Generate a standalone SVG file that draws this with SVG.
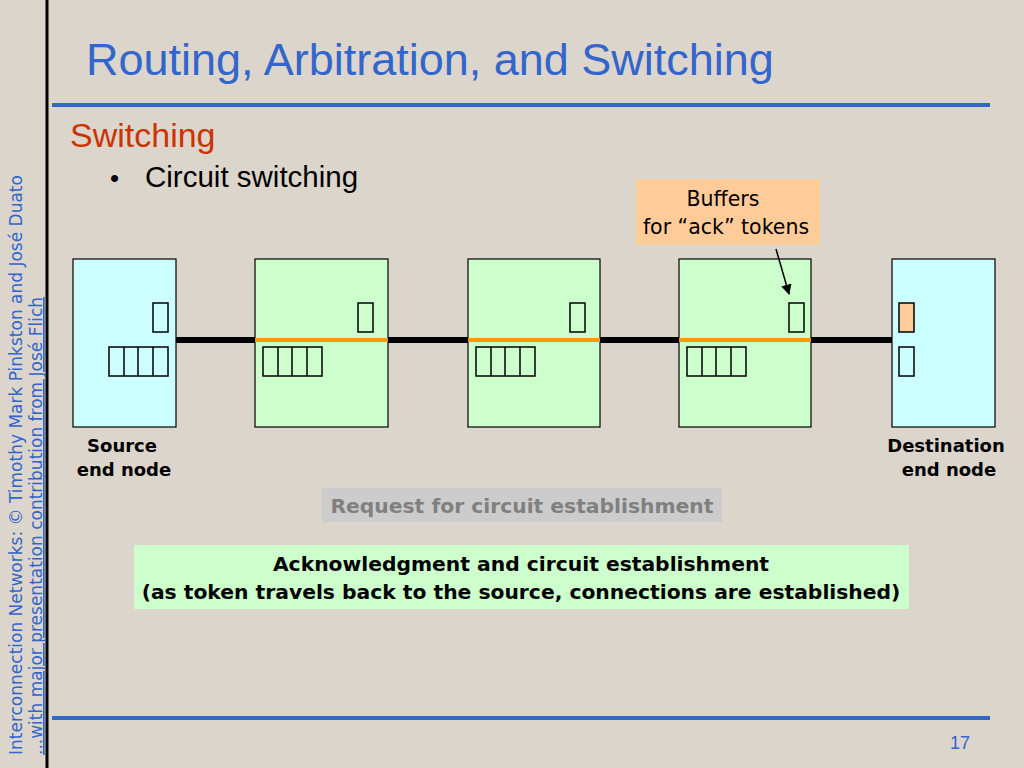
<svg xmlns="http://www.w3.org/2000/svg" width="1024" height="768" viewBox="0 0 1024 768">
<defs>
<style>
.box{stroke:#000;stroke-width:1.2}
.buf{fill:none;stroke:#000;stroke-width:1.5}
.dv{font-family:"DejaVu Sans",sans-serif}
.lb{font-family:"DejaVu Sans",sans-serif;font-weight:bold;font-size:18px;fill:#000;text-anchor:middle}
.big{font-size:20.3px}
</style>
<marker id="ah" viewBox="0 0 10 10" refX="9" refY="5" markerWidth="7" markerHeight="7" orient="auto"><path d="M0,0L10,5L0,10z" fill="#000"/></marker>
</defs>
<rect width="1024" height="768" fill="#dcd5cb"/>
<line x1="47" y1="0" x2="47" y2="768" stroke="#000" stroke-width="3"/>
<line x1="52" y1="105" x2="990" y2="105" stroke="#3366cc" stroke-width="4"/>
<line x1="52" y1="718" x2="990" y2="718" stroke="#3366cc" stroke-width="4"/>
<text x="86" y="75" font-family="Liberation Sans,sans-serif" font-size="45" fill="#3366cc">Routing, Arbitration, and Switching</text>
<text x="70" y="147" font-family="Liberation Sans,sans-serif" font-size="34" fill="#cc3300">Switching</text>
<text x="110" y="187" font-family="Liberation Sans,sans-serif" font-size="26" fill="#000">•</text>
<text x="145" y="187" font-family="Liberation Sans,sans-serif" font-size="29.5" fill="#000">Circuit switching</text>
<text transform="translate(22,755) rotate(-90)" class="dv" font-size="17" fill="#3366cc">Interconnection Networks: © Timothy Mark Pinkston and José Duato</text>
<text transform="translate(42,755) rotate(-90)" class="dv" font-size="17" fill="#3366cc" text-decoration="underline">...with major presentation contribution from José Flich</text>
<text x="960" y="749" font-family="Liberation Sans,sans-serif" font-size="18" fill="#3366cc" text-anchor="middle">17</text>
<g id="connectors">
<line x1="176" y1="340" x2="892" y2="340" stroke="#000" stroke-width="6"/>
</g>
<g id="source">
<rect class="box" x="73" y="259" width="103" height="168" fill="#ccffff"/>
<rect class="buf" x="153" y="303" width="15" height="29"/>
<rect class="buf" x="109" y="347" width="59" height="29"/>
<path class="buf" d="M124,347V376M138,347V376M153,347V376"/>
</g>
<g id="router1">
<rect class="box" x="255" y="259" width="133" height="168" fill="#ccffcc"/>
<line x1="255" y1="340" x2="388" y2="340" stroke="#ff9900" stroke-width="4"/>
<rect class="buf" x="358" y="303" width="15" height="29"/>
<rect class="buf" x="263" y="347" width="59" height="29"/>
<path class="buf" d="M278,347V376M292,347V376M307,347V376"/>
</g>
<g id="router2">
<rect class="box" x="468" y="259" width="132" height="168" fill="#ccffcc"/>
<line x1="468" y1="340" x2="600" y2="340" stroke="#ff9900" stroke-width="4"/>
<rect class="buf" x="570" y="303" width="15" height="29"/>
<rect class="buf" x="476" y="347" width="59" height="29"/>
<path class="buf" d="M491,347V376M505,347V376M520,347V376"/>
</g>
<g id="router3">
<rect class="box" x="679" y="259" width="132" height="168" fill="#ccffcc"/>
<line x1="679" y1="340" x2="811" y2="340" stroke="#ff9900" stroke-width="4"/>
<rect class="buf" x="789" y="303" width="15" height="29"/>
<rect class="buf" x="687" y="347" width="59" height="29"/>
<path class="buf" d="M702,347V376M716,347V376M731,347V376"/>
</g>
<g id="destination">
<rect class="box" x="892" y="259" width="103" height="168" fill="#ccffff"/>
<rect class="buf" x="899" y="303" width="15" height="29" style="fill:#ffcc99"/>
<rect class="buf" x="899" y="347" width="15" height="29"/>
</g>
<g id="buffers-note">
<rect x="636" y="179" width="184" height="66" fill="#ffcc99"/>
<text x="723" y="206" class="dv" font-size="20.5" text-anchor="middle">Buffers</text>
<text x="726" y="234" class="dv" font-size="20.5" text-anchor="middle">for “ack” tokens</text>
<line x1="776" y1="249" x2="789" y2="294" stroke="#000" stroke-width="1.5" marker-end="url(#ah)"/>
</g>
<text class="lb" x="122" y="452">Source</text>
<text class="lb" x="124" y="476">end node</text>
<text class="lb" x="946" y="452">Destination</text>
<text class="lb" x="949" y="476">end node</text>
<g id="request">
<rect x="322" y="488" width="400" height="34" fill="#cccccc"/>
<text class="lb big" x="522" y="513" style="fill:#808080">Request for circuit establishment</text>
</g>
<g id="ack">
<rect x="134" y="545" width="775" height="64" fill="#ccffcc"/>
<text class="lb big" x="521" y="571">Acknowledgment and circuit establishment</text>
<text class="lb big" x="521" y="599">(as token travels back to the source, connections are established)</text>
</g>
</svg>
